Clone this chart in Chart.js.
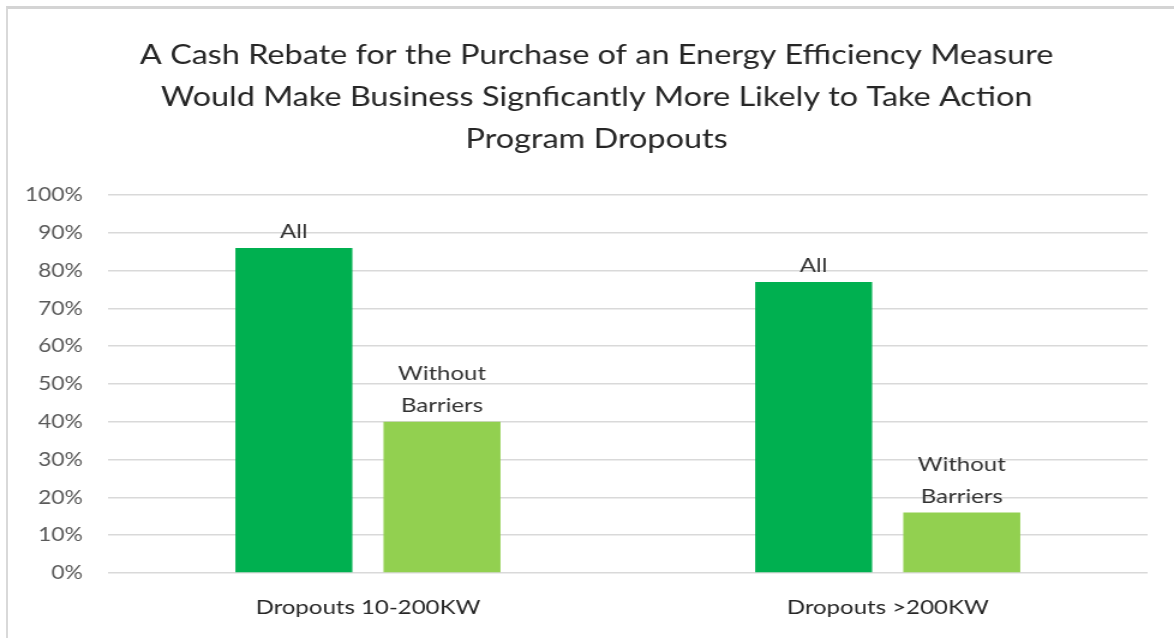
<!DOCTYPE html>
<html>
<head>
<meta charset="utf-8">
<script src="https://cdn.jsdelivr.net/npm/chart.js@4/dist/chart.umd.min.js"></script>
<style>
	html, body { margin: 0; padding: 0; background: #fff; }
	#wrap { position: relative; width: 1174px; height: 638px; overflow: hidden; }
	#frame { position: absolute; left: 6px; top: 6px; width: 1200px; height: 700px;
		border-left: 2px solid #d9d9d9; border-top: 3px solid #d4d4d4; }
	/* исходная картинка растянута по горизонтали примерно в 1.2 раза */
	#stretch { position: absolute; left: 0; top: 0; width: 978px; height: 638px;
		transform: scaleX(1.2004); transform-origin: 0 0; }
</style>
</head>
<body>
<div id="wrap">
	<div id="frame"></div>
	<div id="stretch">
		<canvas id="myChart" width="978" height="638"></canvas>
	</div>
</div>
<script>
// Данные графика
const categories = ['Dropouts 10-200KW', 'Dropouts >200KW'];
const seriesNames = ['All', ['Without', 'Barriers']];
const allValues = [86, 77];
const withoutBarriersValues = [40, 16];
const titleLines = [
	'A Cash Rebate for the Purchase of an Energy Efficiency Measure',
	'Would Make Business Signficantly More Likely to Take Action',
	'Program Dropouts'
];

const fontFamily = 'Lato, "Open Sans", sans-serif';

// Подписи над столбцами (имя серии)
const barLabels = {
	id: 'barLabels',
	afterDatasetsDraw(chart) {
		const ctx = chart.ctx;
		ctx.save();
		ctx.font = '20px ' + fontFamily;
		ctx.fillStyle = '#333333';
		ctx.textAlign = 'center';
		ctx.textBaseline = 'middle';
		chart.data.datasets.forEach((ds, i) => {
			const lines = [].concat(seriesNames[i]);
			chart.getDatasetMeta(i).data.forEach(bar => {
				lines.forEach((line, k) => {
					const y = bar.y - 16 - (lines.length - 1 - k) * 32;
					ctx.fillText(line, bar.x, y);
				});
			});
		});
		ctx.restore();
	}
};

// Заголовок в оригинале чуть смещён вправо от центра
const titleShift = {
	id: 'titleShift',
	afterLayout(chart) {
		chart.titleBlock.left += 15;
		chart.titleBlock.right += 15;
	}
};

const ctx = document.getElementById('myChart').getContext('2d');

const chart = new Chart(ctx, {
	type: 'bar',
	data: {
		labels: categories,
		datasets: [
			{
				label: 'All',
				data: allValues,
				backgroundColor: '#00b050',
				categoryPercentage: 0.57,
				barPercentage: 0.79
			},
			{
				label: 'Without Barriers',
				data: withoutBarriersValues,
				backgroundColor: '#92d050',
				categoryPercentage: 0.57,
				barPercentage: 0.79
			}
		]
	},
	options: {
		responsive: false,
		animation: false,
		layout: { padding: { left: 8, right: 22, top: 0, bottom: 0 } },
		plugins: {
			legend: { display: false },
			tooltip: { enabled: false },
			title: {
				display: true,
				text: titleLines,
				color: '#262626',
				font: { family: fontFamily, size: 27, weight: 'normal', lineHeight: 42 / 27 },
				padding: { top: 34, bottom: 35 }
			}
		},
		scales: {
			x: {
				grid: { display: false, drawTicks: false },
				border: { display: false },
				afterFit(scale) { scale.height = 65; },
				ticks: {
					color: '#262626',
					padding: 23,
					font: { family: fontFamily, size: 20 }
				}
			},
			y: {
				min: 0,
				max: 100,
				grid: { color: '#d9d9d9', lineWidth: 1.5, drawTicks: false },
				border: { display: false },
				afterFit(scale) { scale.width = 82; },
				ticks: {
					stepSize: 10,
					color: '#595959',
					padding: 21,
					font: { family: fontFamily, size: 19 },
					callback: v => v + '%'
				}
			}
		}
	},
	plugins: [barLabels, titleShift]
});
</script>
</body>
</html>
